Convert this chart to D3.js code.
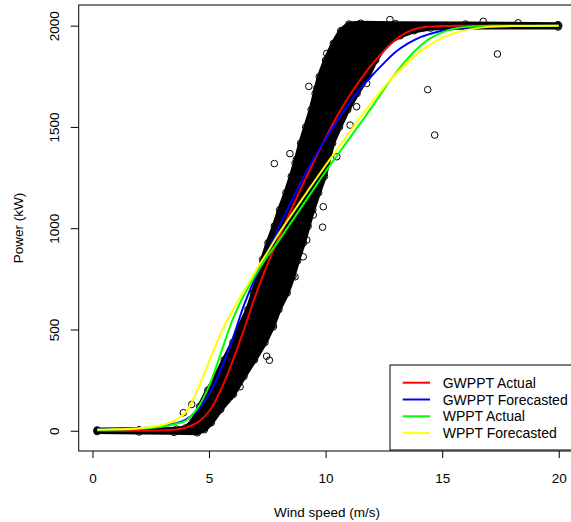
<!DOCTYPE html>
<html><head><meta charset="utf-8">
<script src="https://cdn.jsdelivr.net/npm/d3@7"></script>
<style>
html,body{margin:0;padding:0;background:#fff;}
svg{display:block;font-family:"Liberation Sans",Arial,Helvetica,sans-serif;}
</style></head>
<body>
<svg id="chart" width="571" height="522"></svg>
<script>
// ---------- data ----------
const xTicks = [0, 5, 10, 15, 20];
const yTicks = [0, 500, 1000, 1500, 2000];

// wind-speed grid for the fitted curves
const curveWind = [0.2, 1, 2, 3, 3.5, 4, 4.5, 5, 5.5, 6, 6.5, 7, 7.5, 8, 8.5, 9, 9.5, 10, 10.5, 11, 11.5, 12, 12.5, 13, 13.5, 14, 14.5, 15, 15.5, 16, 17, 18, 20];
const gwpptActual     = [0, 0, 0, 2, 5, 15, 40, 95, 200, 340, 500, 670, 820, 955, 1085, 1210, 1330, 1445, 1555, 1650, 1735, 1810, 1875, 1930, 1968, 1988, 1995, 1998, 1999, 2000, 2000, 2000, 2000];
const gwpptForecasted = [8, 9, 12, 22, 35, 55, 100, 180, 300, 450, 620, 760, 880, 1005, 1125, 1240, 1345, 1440, 1530, 1615, 1690, 1755, 1815, 1870, 1910, 1940, 1960, 1975, 1983, 1988, 1995, 1998, 2000];
const wpptActual      = [5, 6, 10, 20, 32, 50, 110, 220, 380, 545, 670, 770, 860, 940, 1025, 1110, 1195, 1280, 1360, 1440, 1520, 1600, 1685, 1765, 1835, 1893, 1938, 1967, 1985, 1994, 1999, 2000, 2000];
const wpptForecasted  = [5, 7, 12, 28, 50, 90, 200, 340, 480, 590, 690, 790, 880, 975, 1060, 1145, 1228, 1310, 1390, 1470, 1548, 1622, 1695, 1760, 1817, 1867, 1908, 1940, 1962, 1978, 1994, 1998, 2000];

const seriesNames  = ["GWPPT Actual", "GWPPT Forecasted", "WPPT Actual", "WPPT Forecasted"];
const seriesColors = ["#ff0000", "#0000ff", "#00ff00", "#ffff00"];

// dense observation cloud: upper/left boundary and lower/right boundary (wind, power)
const cloudUpperWind  = [0.2, 2.0, 3.0, 3.6, 4.0, 4.3, 4.6, 4.95, 5.3, 5.65, 6.03, 6.35, 6.67, 6.9, 7.1, 7.3, 7.53, 7.8, 8.03, 8.3, 8.53, 8.75, 8.93, 9.15, 9.38, 9.55, 9.73, 10.0, 10.33, 10.65, 11.0, 11.5, 13, 16, 19.97];
const cloudUpperPower = [4, 5, 6, 8, 14, 45, 120, 200, 268, 350, 436, 520, 599, 680, 762, 845, 928, 1010, 1091, 1175, 1256, 1340, 1420, 1500, 1585, 1665, 1748, 1830, 1912, 1975, 2008, 2012, 2010, 2008, 2005];
const cloudLowerWind  = [19.97, 16, 14.5, 13.8, 13.2, 12.6, 12.15, 11.8, 11.35, 10.95, 10.6, 10.3, 9.95, 9.7, 9.45, 9.25, 9.05, 8.8, 8.6, 8.35, 8.0, 7.75, 7.4, 6.95, 6.5, 6.05, 5.5, 5.1, 4.8, 4.5, 3.5, 2.0, 0.2];
const cloudLowerPower = [1993, 1993, 1988, 1975, 1950, 1912, 1830, 1748, 1665, 1585, 1500, 1420, 1256, 1175, 1091, 1010, 928, 840, 762, 680, 599, 520, 436, 350, 268, 180, 105, 40, 5, -10, -8, -6, -4];

// scattered observations around the cloud edge and isolated ones
const edgeWind  = [9.62, 10.05, 10.40, 10.19, 8.69, 8.04, 7.90, 7.54, 10.48, 11.05, 11.33, 11.76, 9.90, 9.47, 9.19, 9.04, 8.69, 7.76, 6.33, 5.90, 4.90];
const edgePower = [1690, 1863, 1913, 1814, 1320, 1057, 1007, 892, 1353, 1509, 1600, 1715, 1106, 1065, 942, 859, 760, 513, 217, 168, 28];
const outlierWind  = [9.28, 7.8, 8.47, 9.87, 7.47, 7.59, 14.38, 14.68, 17.37, 12.76, 16.76, 18.26, 3.9, 4.26, 0.2, 20.0];
const outlierPower = [1700, 1319, 1368, 1005, 368, 348, 1684, 1460, 1860, 2030, 2021, 2014, 89, 130, 0, 2000];

// ---------- drawing ----------
const svg = d3.select("#chart");
const x = d3.scaleLinear().domain([-0.59, 20.74]).range([78.7, 576]);
const y = d3.scaleLinear().domain([-100, 2102]).range([451, 5]);
const FS = 13.5;

// cloud polygon
const cloudPts = cloudUpperWind.map((w, i) => [w, cloudUpperPower[i]])
  .concat(cloudLowerWind.map((w, i) => [w, cloudLowerPower[i]]));
svg.append("path")
  .attr("d", d3.line().x(d => x(d[0])).y(d => y(d[1]))(cloudPts) + "Z")
  .attr("fill", "#000").attr("stroke", "#000").attr("stroke-width", 5)
  .attr("stroke-linejoin", "round");

// circles on cloud boundary, edge and outliers
const circlePts = cloudPts
  .concat(edgeWind.map((w, i) => [w, edgePower[i]]))
  .concat(outlierWind.map((w, i) => [w, outlierPower[i]]));
svg.append("g").selectAll("circle").data(circlePts).join("circle")
  .attr("cx", d => x(d[0])).attr("cy", d => y(d[1])).attr("r", 3.3)
  .attr("fill", "none").attr("stroke", "#000").attr("stroke-width", 1);

// curves
const allSeries = [gwpptActual, gwpptForecasted, wpptActual, wpptForecasted];
const line = d3.line().curve(d3.curveCatmullRom.alpha(0.5)).x((d, i) => x(curveWind[i])).y(d => y(d));
svg.append("g").selectAll("path").data(allSeries).join("path")
  .attr("d", d => line(d)).attr("fill", "none")
  .attr("stroke", (d, i) => seriesColors[i]).attr("stroke-width", 2);

// box
svg.append("rect").attr("x", 78.7).attr("y", 5).attr("width", 576 - 78.7).attr("height", 446)
  .attr("fill", "none").attr("stroke", "#000").attr("stroke-width", 1);

// x axis
const gx = svg.append("g").attr("transform", "translate(0,451)")
  .call(d3.axisBottom(x).tickValues(xTicks).tickSize(7).tickFormat(d3.format("d")));
gx.select(".domain").remove();
gx.selectAll(".tick line").attr("stroke", "#000");
gx.selectAll(".tick text").attr("y", 32).attr("dy", 0).attr("fill", "#000")
  .attr("font-size", FS).attr("font-family", "Liberation Sans, Arial, sans-serif");

// y axis
const gy = svg.append("g").attr("transform", "translate(78.7,0)")
  .call(d3.axisLeft(y).tickValues(yTicks).tickSize(8).tickFormat(d3.format("d")));
gy.select(".domain").remove();
gy.selectAll(".tick line").attr("stroke", "#000");
gy.selectAll(".tick text").attr("x", 0).attr("y", 0).attr("dy", 0)
  .attr("transform", "translate(-20,0) rotate(-90)").attr("text-anchor", "middle")
  .attr("fill", "#000").attr("font-size", FS).attr("font-family", "Liberation Sans, Arial, sans-serif");

// axis titles
svg.append("text").attr("x", 327).attr("y", 516.5).attr("text-anchor", "middle")
  .attr("font-size", FS).text("Wind speed (m/s)");
svg.append("text").attr("transform", "translate(23,228) rotate(-90)").attr("text-anchor", "middle")
  .attr("font-size", FS).text("Power (kW)");

// legend
const lg = svg.append("g");
lg.append("rect").attr("x", 390).attr("y", 365).attr("width", 200).attr("height", 85)
  .attr("fill", "#fff").attr("stroke", "#000").attr("stroke-width", 1);
const rowY = i => 382.7 + i * 16.8;
lg.selectAll("line").data(seriesNames).join("line")
  .attr("x1", 402.7).attr("x2", 430).attr("y1", (d, i) => rowY(i)).attr("y2", (d, i) => rowY(i))
  .attr("stroke", (d, i) => seriesColors[i]).attr("stroke-width", 2);
lg.selectAll("text").data(seriesNames).join("text")
  .attr("x", 442.7).attr("y", (d, i) => rowY(i) + 5).attr("font-size", 14).text(d => d);
</script>
</body></html>
